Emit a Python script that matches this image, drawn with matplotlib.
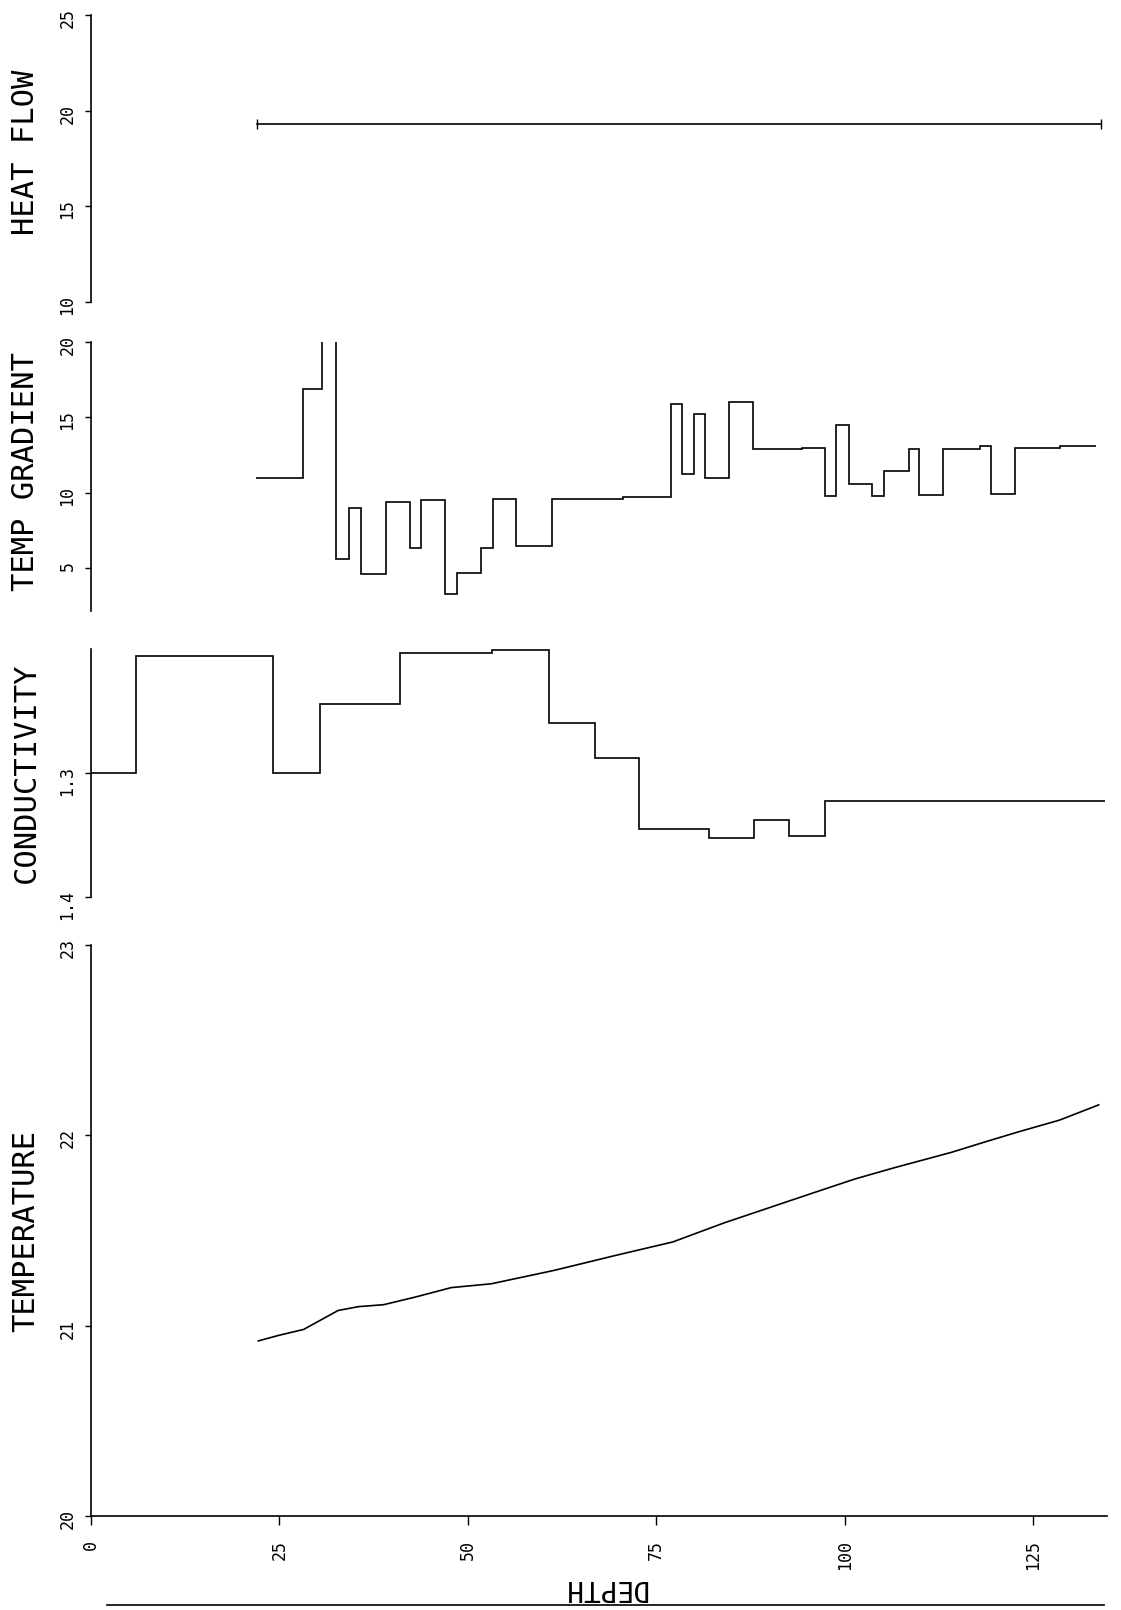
import matplotlib
matplotlib.use("Agg")
import matplotlib.pyplot as plt
from matplotlib.lines import Line2D

plt.rcParams["font.family"] = ["DejaVu Sans Mono"]

# heat flow (single interval value)
heat_depth = [22.0, 134.0]
heat_flow = [19.3, 19.3]

# temperature gradient, step intervals (edges in depth)
grad_edges = [21.9, 28.1, 30.6, 32.5, 34.2, 35.8, 39.1, 42.3, 43.8, 47.0, 48.6,
              51.7, 53.3, 56.4, 61.1, 70.6, 76.9, 78.4, 80.0, 81.5, 84.7, 87.8,
              94.3, 97.4, 98.9, 100.6, 103.6, 105.2, 108.5, 109.9, 113.0, 118.0,
              119.4, 122.6, 128.5, 133.4]
grad_vals = [11.0, 16.9, 30.0, 5.6, 9.0, 4.6, 9.4, 6.35, 9.5, 3.25, 4.7,
             6.35, 9.55, 6.45, 9.6, 9.7, 15.9, 11.25, 15.2, 11.0, 16.0,
             12.87, 12.98, 9.8, 14.47, 10.58, 9.76, 11.45, 12.9, 9.85, 12.9,
             13.07, 9.9, 12.95, 13.1]

# conductivity, step intervals
cond_edges = [0.0, 6.0, 24.2, 30.4, 41.0, 53.2, 60.7, 66.9, 72.7, 82.0, 88.0,
              92.6, 97.4, 134.5]
cond_vals = [1.300, 1.205, 1.2995, 1.244, 1.203, 1.200, 1.259, 1.288, 1.345,
             1.352, 1.338, 1.351, 1.3225]

# temperature profile
temp_depth = [22.2, 25.0, 28.2, 30.5, 32.8, 35.5, 38.8, 43.0, 47.8, 53.1, 61.4,
              69.7, 77.2, 84.0, 90.0, 96.0, 101.3, 106.6, 114.1, 119.0, 123.2,
              128.5, 133.7]
temp_vals = [20.92, 20.95, 20.98, 21.03, 21.08, 21.10, 21.11, 21.15, 21.20,
             21.22, 21.29, 21.37, 21.44, 21.54, 21.62, 21.70, 21.77, 21.83,
             21.91, 21.97, 22.02, 22.08, 22.16]

depth_ticks = [0, 25, 50, 75, 100, 125]

W, H = 1121, 1610
fig = plt.figure(figsize=(W / 100, H / 100), dpi=100)
left = 91 / W
width = 1016 / W
xmax = 134.8


def make_axes(top_px, bottom_px):
    ax = fig.add_axes([left, 1 - bottom_px / H, width, (bottom_px - top_px) / H])
    ax.set_xlim(0, xmax)
    for s in ("top", "right", "bottom"):
        ax.spines[s].set_visible(False)
    ax.spines["left"].set_linewidth(1.2)
    ax.patch.set_alpha(0)
    ax.tick_params(axis="y", direction="out", length=4.5, width=1,
                   labelsize=12, labelrotation=90, pad=6)
    ax.set_xticks([])
    return ax


def side_label(ax, text, y=0.5):
    ax.set_ylabel(text, fontsize=22, rotation=90, va="center")
    ax.yaxis.set_label_coords(-0.064, y)


line_kw = dict(color="black", lw=1.2)

ax1 = make_axes(15, 302)
ax1.set_ylim(10, 25)
ax1.set_yticks([10, 15, 20, 25])
ax1.plot(heat_depth, heat_flow, marker="|", markersize=7, **line_kw)
side_label(ax1, "HEAT FLOW", 0.52)

ax2 = make_axes(342, 611)
ax2.set_ylim(2.15, 20)
ax2.set_yticks([5, 10, 15, 20])
ax2.stairs(grad_vals, grad_edges, baseline=None, **line_kw)
side_label(ax2, "TEMP GRADIENT", 0.52)

ax3 = make_axes(649, 897)
ax3.set_ylim(1.4, 1.1995)
ax3.set_yticks([1.3, 1.4])
ax3.set_yticklabels(["1.3", "1.4"])
ax3.stairs(cond_vals, cond_edges, baseline=None, **line_kw)
side_label(ax3, "CONDUCTIVITY", 0.5)

ax4 = make_axes(945, 1516)
ax4.set_ylim(20, 23)
ax4.set_yticks([20, 21, 22, 23])
ax4.spines["bottom"].set_visible(True)
ax4.spines["bottom"].set_linewidth(1.2)
ax4.set_xticks(depth_ticks)
ax4.tick_params(axis="x", direction="out", length=6.5, width=1,
                labelsize=12, labelrotation=90, pad=11)
ax4.plot(temp_depth, temp_vals, **line_kw)
side_label(ax4, "TEMPERATURE", 0.5)

fig.text(605 / W, 1 - 1588 / H, "DEPTH", fontsize=20, rotation=180,
         ha="center", va="center")

fig.add_artist(Line2D([107 / W, 1104 / W], [1 - 1605 / H, 1 - 1605 / H],
                      color="black", lw=1.2))

fig.savefig("out.png", dpi=100, facecolor="white")
